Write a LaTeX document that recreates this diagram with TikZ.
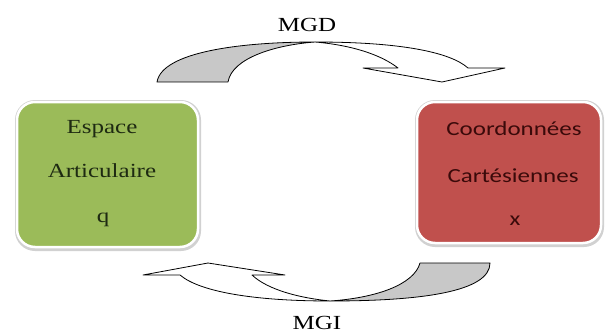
\documentclass[tikz,border=0pt]{standalone}
\usepackage{fontspec}
\setmainfont{Liberation Serif}[FakeStretch=1.25]
\newfontfamily\boxsans{Carlito}[FakeStretch=1.25]
\definecolor{boxgreen}{HTML}{9BBB59}
\definecolor{boxred}{HTML}{C0504D}
\definecolor{arrowgray}{HTML}{C8C8C8}
\definecolor{greentext}{HTML}{1E2A12}
\definecolor{redtext}{HTML}{3A0A0A}
\begin{document}
\begin{tikzpicture}[x=1pt,y=-1pt,
  boxstyle/.style={rounded corners=18pt, draw=white, line width=2.5pt},
  shadowstyle/.style={rounded corners=20pt, fill=black!18},
  arrowline/.style={draw=black, line width=0.8pt, line join=round},
  seriftext/.style={font=\fontsize{20}{24}\selectfont, anchor=base, inner sep=0pt},
  sanstext/.style={font=\boxsans\fontsize{20}{24}\selectfont, anchor=base, inner sep=0pt, text=redtext},
  label/.style={font=\fontsize{20}{24}\selectfont, anchor=base, inner sep=0pt}]
\useasboundingbox (0,0) rectangle (609,334);

% boxes
\fill[shadowstyle] (15,100) rectangle (201,251);
\path[boxstyle, fill=boxgreen] (17,102) rectangle (198,247);
\fill[shadowstyle] (415,100) rectangle (604,247);
\path[boxstyle, fill=boxred] (417,102) rectangle (601,243);

\node[seriftext, text=greentext] (espace) at (102,133) {Espace};
\node[seriftext, text=greentext] (artic) at (102,177) {Articulaire};
\node[seriftext, text=greentext] (q) at (103,222) {q};

\node[sanstext] (coord) at (514,135) {Coordonnées};
\node[sanstext] (cart) at (513,182) {Cartésiennes};
\node[sanstext] (x) at (515,225) {x};

% top arrow (MGD)
\path[arrowline, fill=arrowgray]
  (157,82) .. controls (162,52) and (240,42) .. (315,42)
  .. controls (275,45) and (232,58) .. (228,82) -- cycle;
\path[arrowline, fill=white]
  (315,42) .. controls (400,42) and (450,52) .. (468,68)
  -- (505,68) -- (442,82) -- (363,68) -- (398,68)
  .. controls (380,54) and (350,45) .. (315,42);

% bottom arrow (MGI)
\path[arrowline, fill=arrowgray]
  (490,263) -- (420,263)
  .. controls (414,285) and (375,298) .. (330,301)
  .. controls (420,301) and (490,292) .. (490,263) -- cycle;
\path[arrowline, fill=white]
  (330,301) .. controls (255,301) and (200,292) .. (180,275)
  -- (143,275) -- (208,263) -- (285,275) -- (252,275)
  .. controls (268,290) and (300,298) .. (330,301);

\node[label] (mgd) at (307,32) {MGD};
\node[label] (mgi) at (317,329) {MGI};
\end{tikzpicture}
\end{document}
